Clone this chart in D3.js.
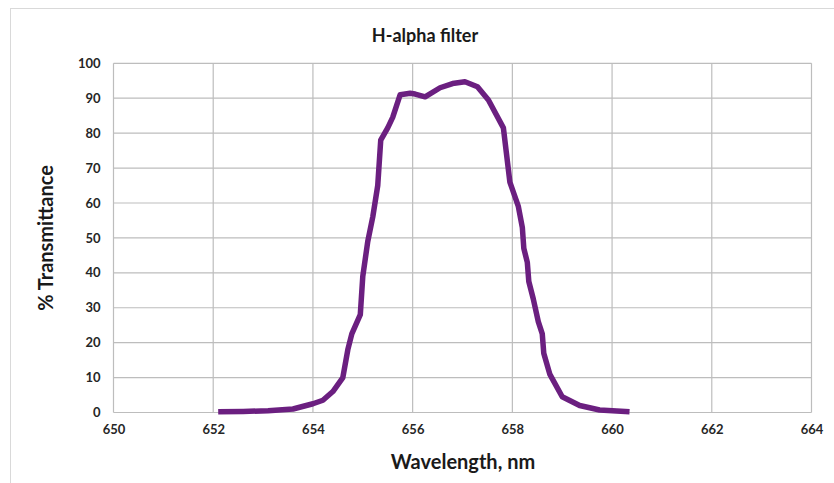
<!DOCTYPE html>
<html><head><meta charset="utf-8">
<script src="https://cdn.jsdelivr.net/npm/d3@7"></script>
<style>body{margin:0;background:#fff}svg{display:block}</style>
</head><body>
<svg id="c" width="834" height="483"></svg>
<script>
const title = "H-alpha filter";
const xLabel = "Wavelength, nm";
const yLabel = "% Transmittance";
const xTicks = [650, 652, 654, 656, 658, 660, 662, 664];
const yTicks = [0, 10, 20, 30, 40, 50, 60, 70, 80, 90, 100];
const wavelength = [652.1, 652.6, 653.1, 653.6, 654.0, 654.2, 654.4, 654.6, 654.7, 654.78, 654.95, 655.0, 655.1, 655.2, 655.3, 655.36, 655.5, 655.6, 655.75, 655.95, 656.05, 656.25, 656.55, 656.8, 657.05, 657.3, 657.52, 657.82, 657.95, 658.12, 658.2, 658.23, 658.3, 658.33, 658.42, 658.52, 658.6, 658.63, 658.75, 659.0, 659.35, 659.75, 660.35];
const transmittance = [0.2, 0.3, 0.5, 1.0, 2.5, 3.5, 6.0, 10.0, 18.0, 22.5, 28.0, 39.0, 49.0, 56.0, 65.0, 78.0, 81.5, 84.5, 91.0, 91.4, 91.2, 90.4, 93.0, 94.2, 94.7, 93.3, 89.5, 81.5, 66.0, 59.0, 53.0, 47.0, 43.0, 37.5, 32.5, 26.0, 22.5, 17.0, 11.0, 4.5, 2.0, 0.7, 0.2];

const svg = d3.select("#c");
const font = "Lato, 'Open Sans', sans-serif";
const m = {left: 113.5, right: 811.5, top: 63.3, bottom: 412.5};
const x = d3.scaleLinear().domain([650, 664]).range([m.left, m.right]);
const y = d3.scaleLinear().domain([0, 100]).range([m.bottom, m.top]);

svg.append("rect").attr("x", 10.5).attr("y", 8.5).attr("width", 840).attr("height", 500)
  .attr("fill", "#fff").attr("stroke", "#d9d9d9");

// grid
svg.append("g").selectAll("line").data(yTicks).join("line")
  .attr("x1", m.left).attr("x2", m.right).attr("y1", d => y(d)).attr("y2", d => y(d))
  .attr("stroke", "#bdbdbd").attr("stroke-width", 1.2);
svg.append("g").selectAll("line").data(xTicks).join("line")
  .attr("x1", d => x(d)).attr("x2", d => x(d)).attr("y1", m.top).attr("y2", m.bottom)
  .attr("stroke", "#bdbdbd").attr("stroke-width", 1.2);

// axes labels via d3 axes
const xa = svg.append("g").attr("transform", `translate(0,${m.bottom})`)
  .call(d3.axisBottom(x).tickValues(xTicks).tickSize(0).tickPadding(12).tickFormat(d3.format("d")));
const ya = svg.append("g").attr("transform", `translate(${m.left},0)`)
  .call(d3.axisLeft(y).tickValues(yTicks).tickSize(0).tickPadding(13).tickFormat(d3.format("d")));
[xa, ya].forEach(g => {
  g.select(".domain").remove();
  g.selectAll("text").attr("font-family", font).attr("font-weight", "bold")
    .attr("font-size", 13).attr("fill", "#262626");
});

// line
const pts = wavelength.map((w, i) => [w, transmittance[i]]);
svg.append("path").datum(pts)
  .attr("d", d3.line().x(d => x(d[0])).y(d => y(d[1])))
  .attr("fill", "none").attr("stroke", "#6b1f80").attr("stroke-width", 5.5)
  .attr("stroke-linejoin", "round").attr("stroke-linecap", "butt");

// titles
svg.append("text").attr("x", 425).attr("y", 42).attr("text-anchor", "middle")
  .attr("font-family", font).attr("font-weight", "bold").attr("font-size", 18).attr("fill", "#1a1a1a").text(title);
svg.append("text").attr("x", 463).attr("y", 469).attr("text-anchor", "middle")
  .attr("font-family", font).attr("font-weight", "bold").attr("font-size", 20).attr("fill", "#1a1a1a").text(xLabel);
svg.append("text").attr("transform", "translate(53,238) rotate(-90)").attr("text-anchor", "middle")
  .attr("font-family", font).attr("font-weight", "bold").attr("font-size", 20).attr("fill", "#1a1a1a").text(yLabel);
</script>
</body></html>
